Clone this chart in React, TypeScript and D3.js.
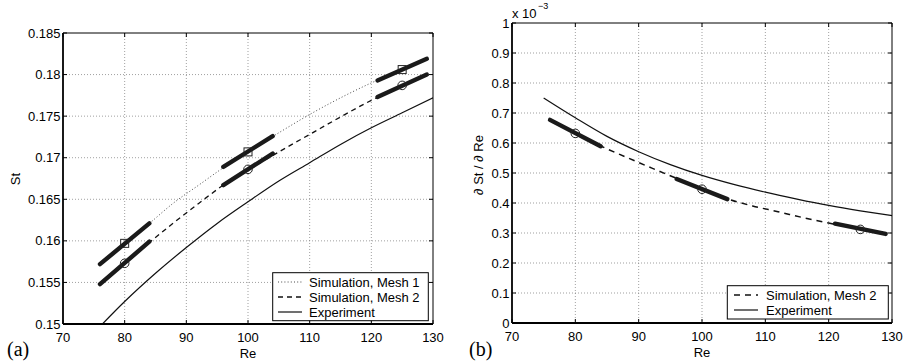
import React from "react";
import * as d3 from "d3";

// ---------- data ----------
const reTicks = [70, 80, 90, 100, 110, 120, 130];
const stTicks = [0.15, 0.155, 0.16, 0.165, 0.17, 0.175, 0.18, 0.185];
const stTickLabels = ["0.15", "0.155", "0.16", "0.165", "0.17", "0.175", "0.18", "0.185"];
const dTicks = [0, 0.1, 0.2, 0.3, 0.4, 0.5, 0.6, 0.7, 0.8, 0.9, 1];
const dTickLabels = ["0", "0.1", "0.2", "0.3", "0.4", "0.5", "0.6", "0.7", "0.8", "0.9", "1"];

// panel (a): St vs Re
const mesh1Re = [76, 80, 84, 88, 92, 96, 100, 105, 110, 115, 120, 125, 129];
const mesh1St = [0.1572, 0.1597, 0.1621, 0.1646, 0.1667, 0.1688, 0.1707, 0.173, 0.1752, 0.1772, 0.179, 0.1806, 0.1819];
const mesh2Re = [76, 80, 84, 88, 92, 96, 100, 105, 110, 115, 120, 125, 129];
const mesh2St = [0.1548, 0.1573, 0.1598, 0.1622, 0.1645, 0.1667, 0.1685, 0.1707, 0.1728, 0.1749, 0.1769, 0.1786, 0.18];
const expRe = [76, 80, 85, 90, 95, 100, 105, 110, 115, 120, 125, 130];
const expSt = [0.1497, 0.1527, 0.1561, 0.1592, 0.1621, 0.1647, 0.1672, 0.1694, 0.1716, 0.1736, 0.1754, 0.1772];

const markerRe = [80, 100, 125];
const mesh1MarkerSt = [0.1597, 0.1707, 0.1806];
const mesh2MarkerSt = [0.1573, 0.1686, 0.1787];
const segStartRe = [76, 96, 121];
const segEndRe = [84, 104, 129];
const mesh1SegStart = [0.1572, 0.1689, 0.1793];
const mesh1SegEnd = [0.1621, 0.1726, 0.1819];
const mesh2SegStart = [0.1548, 0.1667, 0.1773];
const mesh2SegEnd = [0.1599, 0.1705, 0.18];

// panel (b): dSt/dRe (x 1e-3)
const dExpRe = [75, 80, 85, 90, 95, 100, 105, 110, 115, 120, 125, 130];
const dExp = [0.75, 0.684, 0.622, 0.571, 0.528, 0.492, 0.462, 0.436, 0.413, 0.392, 0.374, 0.358];
const dMesh2Re = [76, 80, 84, 88, 92, 96, 100, 104, 108, 112, 116, 120, 125, 129];
const dMesh2 = [0.677, 0.632, 0.59, 0.553, 0.517, 0.482, 0.446, 0.414, 0.39, 0.371, 0.351, 0.333, 0.313, 0.298];
const dMarker = [0.632, 0.446, 0.312];
const dSegStart = [0.677, 0.48, 0.331];
const dSegEnd = [0.589, 0.413, 0.297];

const FONT = "'Liberation Sans', Arial, Helvetica, sans-serif";
const SERIF = "'Liberation Serif', 'Times New Roman', serif";
const FS = 13;
const txt = { fontFamily: FONT, fontSize: FS + "px" };

type Pt = [number, number];

function Axes(props: {
  x0: number; x1: number; y0: number; y1: number;
  yDomain: [number, number]; yTicks: number[]; yLabels: string[];
  id: string; children: (x: d3.ScaleLinear<number, number>, y: d3.ScaleLinear<number, number>) => React.ReactNode;
}) {
  const { x0, x1, y0, y1, yDomain, yTicks, yLabels, id } = props;
  const x = d3.scaleLinear().domain([70, 130]).range([x0, x1]);
  const y = d3.scaleLinear().domain(yDomain).range([y1, y0]);
  const tl = 4;
  return (
    <g>
      <defs>
        <clipPath id={id}>
          <rect x={x0} y={y0} width={x1 - x0} height={y1 - y0} />
        </clipPath>
      </defs>
      {reTicks.slice(1, -1).map((t) => (
        <line key={"gx" + t} x1={x(t)} x2={x(t)} y1={y0} y2={y1} stroke="#777" strokeWidth={0.7} strokeDasharray="1,2" />
      ))}
      {yTicks.slice(1, -1).map((t) => (
        <line key={"gy" + t} x1={x0} x2={x1} y1={y(t)} y2={y(t)} stroke="#777" strokeWidth={0.7} strokeDasharray="1,2" />
      ))}
      <g clipPath={`url(#${id})`}>{props.children(x, y)}</g>
      {reTicks.map((t) => (
        <g key={"tx" + t}>
          <line x1={x(t)} x2={x(t)} y1={y1} y2={y1 - tl} stroke="#000" strokeWidth={1} />
          <line x1={x(t)} x2={x(t)} y1={y0} y2={y0 + tl} stroke="#000" strokeWidth={1} />
          <text x={x(t)} y={y1 + 18} textAnchor="middle" style={txt}>{t}</text>
        </g>
      ))}
      {yTicks.map((t, i) => (
        <g key={"ty" + t}>
          <line x1={x0} x2={x0 + tl} y1={y(t)} y2={y(t)} stroke="#000" strokeWidth={1} />
          <line x1={x1} x2={x1 - tl} y1={y(t)} y2={y(t)} stroke="#000" strokeWidth={1} />
          <text x={x0 - 2.5} y={y(t) + 4.5} textAnchor="end" style={txt}>{yLabels[i]}</text>
        </g>
      ))}
      <line x1={x0} x2={x1} y1={y0} y2={y0} stroke="#000" strokeWidth={1} />
      <line x1={x1} x2={x1} y1={y0} y2={y1} stroke="#000" strokeWidth={1} />
      <line x1={x0} x2={x1} y1={y1} y2={y1} stroke="#000" strokeWidth={1.8} />
      <line x1={x0} x2={x0} y1={y0} y2={y1} stroke="#000" strokeWidth={1.8} />
      <text x={(x0 + x1) / 2} y={y1 + 34} textAnchor="middle" style={txt}>Re</text>
    </g>
  );
}

function curve(xs: number[], ys: number[], x: any, y: any) {
  const pts: Pt[] = xs.map((v, i) => [x(v), y(ys[i])]);
  return d3.line().curve(d3.curveMonotoneX)(pts) || "";
}

function segs(s: number[], e: number[], x: any, y: any, key: string) {
  return segStartRe.map((r, i) => (
    <line key={key + i} x1={x(r)} x2={x(segEndRe[i])} y1={y(s[i])} y2={y(e[i])}
      stroke="#1a1a1a" strokeWidth={4.4} strokeLinecap="round" />
  ));
}

export default function App() {
  const thinDot = "1,2.2";
  return (
    <svg width={905} height={364} style={{ position: "absolute", left: 0, top: 0, background: "#fff" }}>
      <rect x={0} y={0} width={905} height={364} fill="#fff" />
      <Axes x0={63} x1={433} y0={33} y1={324} yDomain={[0.15, 0.185]} yTicks={stTicks} yLabels={stTickLabels} id="clipA">
        {(x, y) => (
          <g>
            <path d={curve(mesh1Re, mesh1St, x, y)} fill="none" stroke="#333" strokeWidth={0.9} strokeDasharray={thinDot} />
            <path d={curve(mesh2Re, mesh2St, x, y)} fill="none" stroke="#111" strokeWidth={1.3} strokeDasharray="5,4" />
            <path d={curve(expRe, expSt, x, y)} fill="none" stroke="#111" strokeWidth={1.2} />
            {segs(mesh1SegStart, mesh1SegEnd, x, y, "m1")}
            {segs(mesh2SegStart, mesh2SegEnd, x, y, "m2")}
            {markerRe.map((r, i) => (
              <rect key={"sq" + i} x={x(r) - 4} y={y(mesh1MarkerSt[i]) - 4} width={8} height={8} fill="none" stroke="#222" strokeWidth={1} />
            ))}
            {markerRe.map((r, i) => (
              <circle key={"ci" + i} cx={x(r)} cy={y(mesh2MarkerSt[i])} r={4.3} fill="none" stroke="#222" strokeWidth={1} />
            ))}
          </g>
        )}
      </Axes>
      <text x={20} y={179} transform="rotate(-90 20 179)" textAnchor="middle" style={txt}>St</text>
      <rect x={272.7} y={272.7} width={155.6} height={48} fill="#fff" stroke="#000" strokeWidth={1} />
      <line x1={278} x2={302} y1={282} y2={282} stroke="#333" strokeWidth={0.9} strokeDasharray={thinDot} />
      <line x1={278} x2={302} y1={297} y2={297} stroke="#111" strokeWidth={1.3} strokeDasharray="5,4" />
      <line x1={278} x2={302} y1={312} y2={312} stroke="#111" strokeWidth={1.2} />
      <text x={309} y={286.5} style={txt}>Simulation, Mesh 1</text>
      <text x={309} y={301.5} style={txt}>Simulation, Mesh 2</text>
      <text x={309} y={316.5} style={txt}>Experiment</text>
      <text x={7} y={356} style={{ fontFamily: SERIF, fontSize: "20px" }}>(a)</text>

      <Axes x0={512} x1={892} y0={23} y1={323} yDomain={[0, 1]} yTicks={dTicks} yLabels={dTickLabels} id="clipB">
        {(x, y) => (
          <g>
            <path d={curve(dMesh2Re, dMesh2, x, y)} fill="none" stroke="#111" strokeWidth={1.5} strokeDasharray="6,5" />
            <path d={curve(dExpRe, dExp, x, y)} fill="none" stroke="#111" strokeWidth={1.2} />
            {segs(dSegStart, dSegEnd, x, y, "d")}
            {markerRe.map((r, i) => (
              <circle key={"dc" + i} cx={x(r)} cy={y(dMarker[i])} r={4.3} fill="none" stroke="#222" strokeWidth={1} />
            ))}
          </g>
        )}
      </Axes>
      <text x={483} y={165} transform="rotate(-90 483 165)" textAnchor="middle" style={txt}>∂ St / ∂ Re</text>
      <text x={512} y={18} style={txt}>x 10</text>
      <text x={538} y={9} style={{ fontFamily: FONT, fontSize: "9px" }}>−3</text>
      <rect x={727.3} y={285.7} width={161} height={33.3} fill="#fff" stroke="#000" strokeWidth={1} />
      <line x1={734} x2={758} y1={295} y2={295} stroke="#111" strokeWidth={1.5} strokeDasharray="6,5" />
      <line x1={734} x2={758} y1={310} y2={310} stroke="#111" strokeWidth={1.2} />
      <text x={766} y={299.5} style={txt}>Simulation, Mesh 2</text>
      <text x={766} y={314.5} style={txt}>Experiment</text>
      <text x={469} y={356} style={{ fontFamily: SERIF, fontSize: "20px" }}>(b)</text>
    </svg>
  );
}
